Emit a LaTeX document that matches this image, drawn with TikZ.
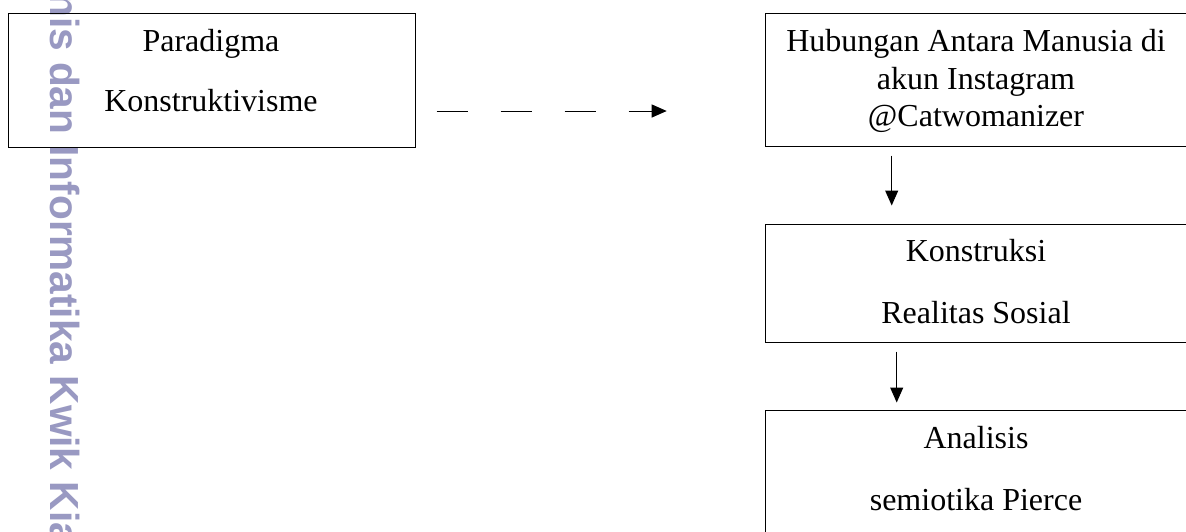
\documentclass[tikz,border=0pt]{standalone}
\usepackage{fontspec}
\setmainfont{Liberation Serif}
\newfontfamily\wmfont{Liberation Sans}
\usetikzlibrary{arrows.meta}
\definecolor{wm}{RGB}{153,153,194}
\tikzset{
  boxnode/.style={draw=black, line width=1pt, rectangle, inner sep=0pt, anchor=north west},
  txt/.style={anchor=base, inner sep=0pt, font=\fontsize{32}{37.5}\selectfont},
  conn/.style={line width=1pt, -{Triangle[length=15pt,width=13pt]}},
  dashconn/.style={conn, dash pattern=on 31pt off 33pt},
  watermark/.style={anchor=base west, rotate=-90, inner sep=0pt, text=wm, font=\wmfont\bfseries\fontsize{40.6}{44}\selectfont}
}
\begin{document}
\begin{tikzpicture}[x=1pt,y=-1pt]
\useasboundingbox (0,0) rectangle (1186,531);
\clip (0,0) rectangle (1186,531);
\fill[white] (0,0) rectangle (1186,531);
% watermark
\node[watermark] (wmk) at (50,-8) {nis dan Informatika Kwik Kia};
% boxes
\node[boxnode, minimum width=407pt, minimum height=134.3pt] (p) at (8,12.7) {};
\node[boxnode, minimum width=423pt, minimum height=133pt] (b1) at (765,12.7) {};
\node[boxnode, minimum width=423pt, minimum height=117.7pt] (b2) at (765,224) {};
\node[boxnode, minimum width=423pt, minimum height=160pt] (b3) at (765,410) {};
% texts
\node[txt] (p1) at (211,51.7) {Paradigma};
\node[txt] (p2) at (211,111.7) {Konstruktivisme};
\node[txt] (h1) at (976,51.7) {Hubungan Antara Manusia di};
\node[txt] (h2) at (976,89.2) {akun Instagram};
\node[txt] (h3) at (976,126.7) {@Catwomanizer};
\node[txt] (k1) at (976,261.7) {Konstruksi};
\node[txt] (k2) at (976,323.3) {Realitas Sosial};
\node[txt] (s1) at (976,448.3) {Analisis};
\node[txt] (s2) at (976,510) {semiotika Pierce};
% connectors
\coordinate (d0) at (436.7,111);
\coordinate (d1) at (666.7,111);
\draw[dashconn] (d0) -- (d1);
\coordinate (a1s) at (891.7,155.7);
\coordinate (a1e) at (891.7,205.5);
\draw[conn] (a1s) -- (a1e);
\coordinate (a2s) at (896.7,351.7);
\coordinate (a2e) at (896.7,402.5);
\draw[conn] (a2s) -- (a2e);
\end{tikzpicture}
\end{document}
